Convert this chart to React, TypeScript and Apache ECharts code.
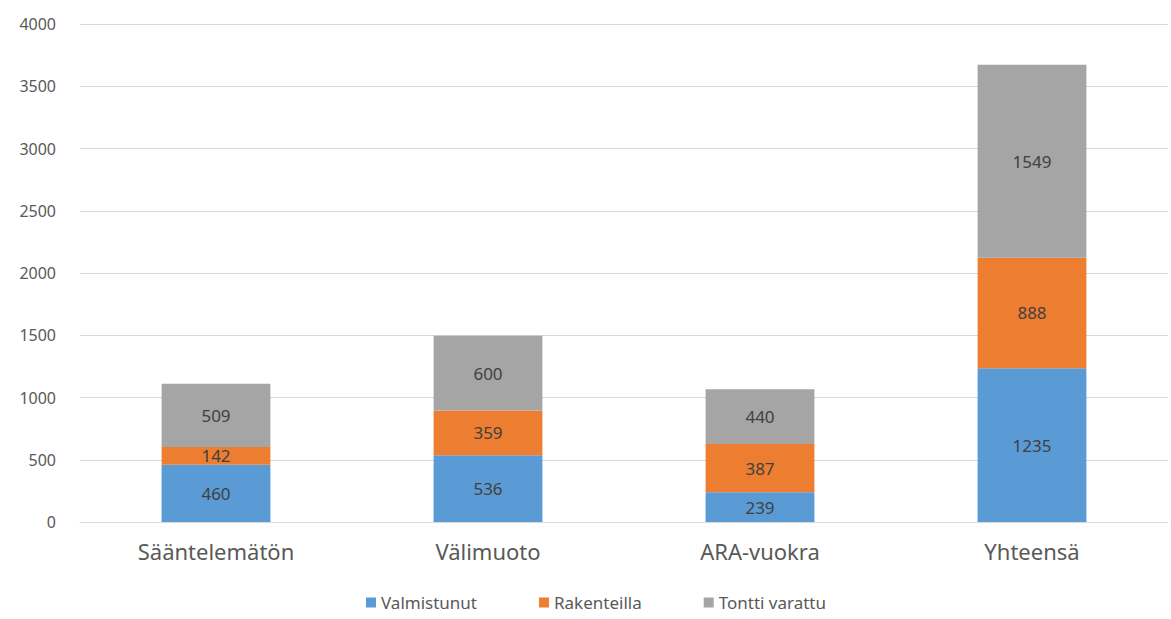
import React, { useEffect, useRef } from "react";
import * as echarts from "echarts";

const categories = ["Sääntelemätön", "Välimuoto", "ARA-vuokra", "Yhteensä"];
const valmistunut = [460, 536, 239, 1235];
const rakenteilla = [142, 359, 387, 888];
const tonttiVarattu = [509, 600, 440, 1549];
const seriesNames = ["Valmistunut", "Rakenteilla", "Tontti varattu"];
const colors = ["#5B9BD5", "#ED7D31", "#A5A5A5"];

export default function App() {
  const ref = useRef<HTMLDivElement>(null);
  useEffect(() => {
    if (!ref.current) return;
    const chart = echarts.init(ref.current, null, { renderer: "svg" });
    const font = "'Noto Sans', 'DejaVu Sans', sans-serif";
    const data = [valmistunut, rakenteilla, tonttiVarattu];
    chart.setOption({
      animation: false,
      textStyle: { fontFamily: font },
      grid: { left: 80, right: 3, top: 24, bottom: 97, containLabel: false },
      legend: {
        bottom: 3,
        left: 361,
        itemWidth: 10,
        itemHeight: 10,
        itemGap: 62,
        icon: "rect",
        textStyle: { fontSize: 17, color: "#595959", fontFamily: font },
        data: seriesNames,
      },
      xAxis: {
        type: "category",
        data: categories,
        axisLine: { show: true, lineStyle: { color: "#D9D9D9" } },
        axisTick: { show: false },
        axisLabel: { fontSize: 22, color: "#595959", margin: 18, fontFamily: font },
      },
      yAxis: {
        type: "value",
        min: 0,
        max: 4000,
        interval: 500,
        axisLine: { show: false },
        axisTick: { show: false },
        splitLine: { lineStyle: { color: "#D9D9D9", width: 1 } },
        axisLabel: {
          fontSize: 16,
          color: "#595959",
          margin: 24,
          fontFamily: font,
          formatter: (v: number) => String(v),
        },
      },
      series: seriesNames.map((name, i) => ({
        name,
        type: "bar",
        stack: "total",
        barWidth: "40%",
        data: data[i],
        itemStyle: { color: colors[i] },
        label: {
          show: true,
          position: "inside",
          fontSize: 17,
          color: "#404040",
          fontFamily: font,
        },
      })),
    });
    return () => chart.dispose();
  }, []);
  return (
    <div
      ref={ref}
      style={{ position: "fixed", left: 0, top: 0, width: 1171, height: 619, background: "#fff" }}
    />
  );
}
